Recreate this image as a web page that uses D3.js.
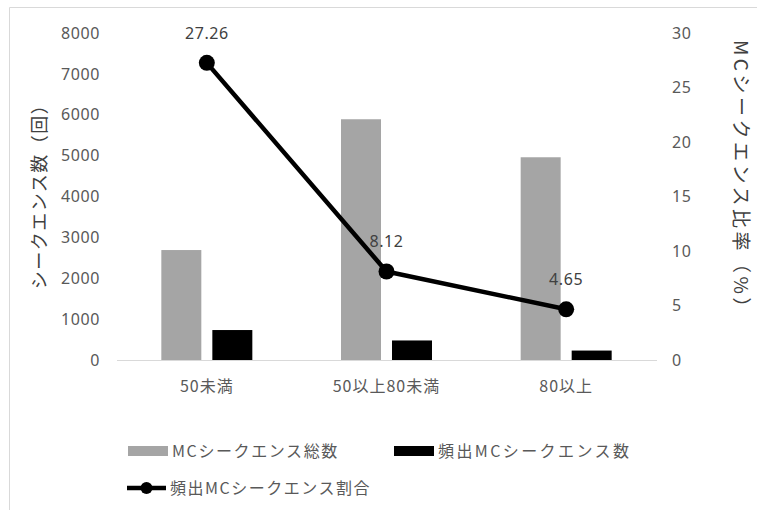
<!DOCTYPE html>
<html>
<head>
<meta charset="utf-8">
<script src="https://cdn.jsdelivr.net/npm/d3@7"></script>
<style>
  html, body { margin: 0; padding: 0; background: #fff; }
  svg { display: block; }
  text { font-family: "Noto Sans CJK JP", "Noto Sans", sans-serif; }
</style>
</head>
<body>
<svg id="chart" width="757" height="510"></svg>
<script>
// 年齢区分ごとの MC シークエンス数と頻出割合
const categories = ["50未満", "50以上80未満", "80以上"];
const seriesNames = ["MCシークエンス総数", "頻出MCシークエンス数"];
const totalCounts = [2690, 5890, 4960];
const frequentCounts = [733, 478, 231];
const frequentRatio = [27.26, 8.12, 4.65];
const countTicks = [0, 1000, 2000, 3000, 4000, 5000, 6000, 7000, 8000];
const ratioTicks = [0, 5, 10, 15, 20, 25, 30];
const lineName = "頻出MCシークエンス割合";

const svg = d3.select("#chart");
const plot = { left: 117, right: 656, top: 33, bottom: 360 };
const colors = { total: "#a5a5a5", freq: "#000000", text: "#595959", grid: "#d9d9d9" };

// 外枠
svg.append("path")
  .attr("d", "M9.5,512 L9.5,7.5 L760,7.5")
  .attr("fill", "none")
  .attr("stroke", colors.grid)
  .attr("stroke-width", 1);

const x0 = d3.scaleBand().domain(categories).range([plot.left, plot.right]);
const groupW = 91;
const x1 = d3.scaleBand().domain(seriesNames)
  .range([(x0.bandwidth() - groupW) / 2, (x0.bandwidth() + groupW) / 2])
  .paddingInner(0.216);
const yCount = d3.scaleLinear().domain([0, 8000]).range([plot.bottom, plot.top]);
const yRatio = d3.scaleLinear().domain([0, 30]).range([plot.bottom, plot.top]);

// 左軸
const leftAxis = svg.append("g")
  .attr("transform", `translate(${plot.left - 17},0)`)
  .call(d3.axisLeft(yCount).tickValues(countTicks).tickSize(0).tickPadding(0).tickFormat(d3.format("d")));
leftAxis.select(".domain").remove();
leftAxis.selectAll("text")
  .attr("fill", colors.text).style("font-size", "16px").style("letter-spacing", "0.6px")
  .style("font-family", "'Noto Sans', sans-serif");

// 右軸
const rightAxis = svg.append("g")
  .attr("transform", `translate(${plot.right + 16},0)`)
  .call(d3.axisRight(yRatio).tickValues(ratioTicks).tickSize(0).tickPadding(0).tickFormat(d3.format("d")));
rightAxis.select(".domain").remove();
rightAxis.selectAll("text")
  .attr("fill", colors.text).style("font-size", "16px").style("letter-spacing", "0.6px")
  .style("font-family", "'Noto Sans', sans-serif");

// 棒グラフ
const rows = categories.map((c, i) => ({ cat: c, values: [
  { key: seriesNames[0], v: totalCounts[i], color: colors.total },
  { key: seriesNames[1], v: frequentCounts[i], color: colors.freq }
]}));
const groups = svg.append("g").selectAll("g").data(rows).join("g")
  .attr("transform", d => `translate(${x0(d.cat)},0)`);
groups.selectAll("rect").data(d => d.values).join("rect")
  .attr("x", d => x1(d.key))
  .attr("width", x1.bandwidth())
  .attr("y", d => yCount(d.v))
  .attr("height", d => yCount(0) - yCount(d.v))
  .attr("fill", d => d.color);

// 横軸
svg.append("line")
  .attr("x1", plot.left).attr("x2", plot.right + 1)
  .attr("y1", plot.bottom + 0.5).attr("y2", plot.bottom + 0.5)
  .attr("stroke", colors.grid).attr("stroke-width", 1.2);

svg.append("g").selectAll("text").data(categories).join("text")
  .attr("x", d => x0(d) + x0.bandwidth() / 2)
  .attr("y", 392)
  .attr("text-anchor", "middle")
  .attr("fill", colors.text)
  .style("font-size", "16px").style("letter-spacing", "1px")
  .text(d => d);

// 割合の折れ線
const cx = c => x0(c) + x0.bandwidth() / 2;
const linePts = categories.map((c, i) => [cx(c), yRatio(frequentRatio[i])]);
svg.append("path")
  .attr("d", d3.line()(linePts))
  .attr("fill", "none").attr("stroke", "#000").attr("stroke-width", 4.5)
  .attr("stroke-linejoin", "round");
svg.append("g").selectAll("circle").data(linePts).join("circle")
  .attr("cx", d => d[0]).attr("cy", d => d[1]).attr("r", 8).attr("fill", "#000");

// データラベル
svg.append("g").selectAll("text").data(categories).join("text")
  .attr("x", (c) => cx(c))
  .attr("y", (c, i) => yRatio(frequentRatio[i]) - 24)
  .attr("text-anchor", "middle")
  .attr("fill", "#404040")
  .style("font-size", "16px").style("letter-spacing", "0.6px")
  .style("font-family", "'Noto Sans', sans-serif")
  .text((c, i) => frequentRatio[i].toFixed(2));

// 軸タイトル
svg.append("text")
  .attr("transform", "translate(46,192) rotate(-90)")
  .attr("text-anchor", "middle")
  .attr("fill", "#404040")
  .style("font-size", "18px").style("letter-spacing", "1.5px")
  .text("シークエンス数（回）");
svg.append("text")
  .attr("transform", "translate(734,180) rotate(90)")
  .attr("text-anchor", "middle")
  .attr("fill", "#404040")
  .style("font-size", "19px").style("letter-spacing", "3.5px")
  .text("MCシークエンス比率（%）");

// 凡例
const legend = svg.append("g");
const legendItems = [
  { name: seriesNames[0], color: colors.total, x: 128, y: 451, ls: 1.6 },
  { name: seriesNames[1], color: colors.freq, x: 394, y: 451, ls: 2.4 }
];
legendItems.forEach(it => {
  legend.append("rect").attr("x", it.x).attr("y", it.y - 5).attr("width", 40).attr("height", 10).attr("fill", it.color);
  legend.append("text").attr("x", it.x + 44).attr("y", it.y + 6)
    .attr("fill", colors.text).style("font-size", "16px").style("letter-spacing", `${it.ls}px`)
    .text(it.name);
});
legend.append("line").attr("x1", 127).attr("x2", 166).attr("y1", 488).attr("y2", 488)
  .attr("stroke", "#000").attr("stroke-width", 4.5);
legend.append("circle").attr("cx", 146.5).attr("cy", 488).attr("r", 6).attr("fill", "#000");
legend.append("text").attr("x", 170).attr("y", 494)
  .attr("fill", colors.text).style("font-size", "16px").style("letter-spacing", "1.5px")
  .text(lineName);
</script>
</body>
</html>
